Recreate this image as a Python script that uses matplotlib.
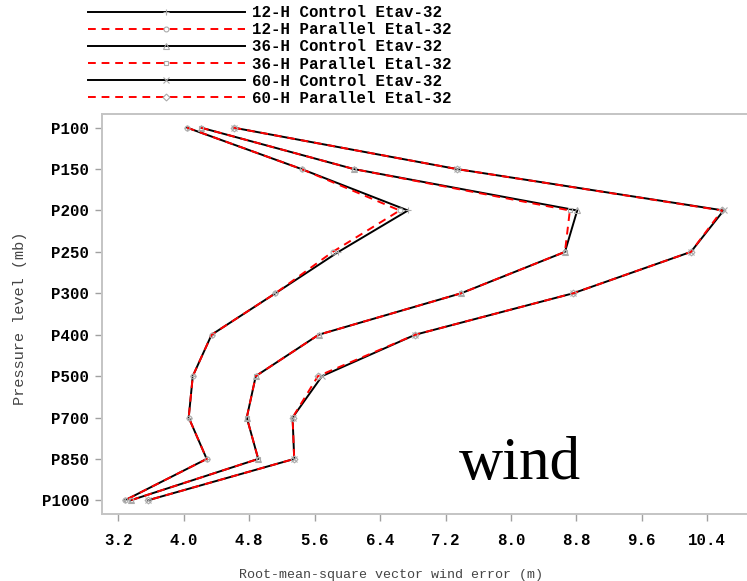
import numpy as np
import matplotlib
matplotlib.use("Agg")
import matplotlib.pyplot as plt

# pressure levels, top of the atmosphere first
levels = ["P100", "P150", "P200", "P250", "P300", "P400", "P500", "P700", "P850", "P1000"]

# RMS vector wind error (m) per level
ctl_12h = [4.04, 5.44, 6.74, 5.89, 5.12, 4.34, 4.11, 4.06, 4.28, 3.28]
par_12h = [4.04, 5.44, 6.64, 5.82, 5.12, 4.34, 4.11, 4.06, 4.28, 3.28]
ctl_36h = [4.21, 6.08, 8.81, 8.66, 7.39, 5.65, 4.88, 4.77, 4.91, 3.35]
par_36h = [4.21, 6.08, 8.72, 8.66, 7.39, 5.65, 4.88, 4.77, 4.91, 3.35]
ctl_60h = [4.61, 7.34, 10.60, 10.20, 8.76, 6.83, 5.69, 5.33, 5.35, 3.56]
par_60h = [4.61, 7.34, 10.58, 10.20, 8.76, 6.83, 5.64, 5.33, 5.35, 3.56]

series = [
    ("12-H Control Etav-32", ctl_12h, "+"),
    ("12-H Parallel Etal-32", par_12h, "o"),
    ("36-H Control Etav-32", ctl_36h, "^"),
    ("36-H Parallel Etal-32", par_36h, "s"),
    ("60-H Control Etav-32", ctl_60h, "x"),
    ("60-H Parallel Etal-32", par_60h, "D"),
]

xticks = [3.2, 4.0, 4.8, 5.6, 6.4, 7.2, 8.0, 8.8, 9.6, 10.4]

W, H = 747, 581
fig = plt.figure(figsize=(W / 100, H / 100), dpi=100)
ax = fig.add_axes([102 / W, (H - 514) / H, (W - 102) / W, 400 / H])

y = np.arange(len(levels))
for i, (name, vals, mk) in enumerate(series):
    if i % 2 == 0:
        ax.plot(vals, y, color="black", lw=1.4, marker=mk, ms=4, mfc="none",
                mec="#aaaaaa", mew=0.8, label=name, zorder=2)
    else:
        ax.plot(vals, y, color="#ff0000", lw=1.4, ls=(0, (4, 3)), marker=mk, ms=3.5,
                mfc="none", mec="#aaaaaa", mew=0.8, label=name, zorder=3)

ax.set_ylim(9.33, -0.33)
ax.set_xlim(3.0, 3.2 + (W - 118.3) / 81.8)
ax.set_yticks(y)
ax.set_yticklabels(levels)
ax.set_xticks(xticks)
ax.set_xticklabels([f"{v:.1f}" for v in xticks])

tick_font = dict(family="Liberation Mono", weight="bold", size=11.3)
for lab in ax.get_xticklabels() + ax.get_yticklabels():
    lab.set_fontproperties(matplotlib.font_manager.FontProperties(**tick_font))

for side in ["top", "left", "bottom"]:
    ax.spines[side].set_color("#c4c4c4")
    ax.spines[side].set_linewidth(1.4)
ax.spines["right"].set_visible(False)
ax.tick_params(axis="both", direction="out", color="#a0a0a0", length=5, width=1)
ax.tick_params(axis="x", pad=9)
ax.tick_params(axis="y", pad=4)

fig.text(391 / W, 1 - 575 / H, "Root-mean-square vector wind error (m)",
         ha="center", va="center", family="Liberation Mono", size=9.6, color="#444444")
fig.text(20 / W, 1 - 318 / H, "Pressure level (mb)", rotation=90,
         ha="center", va="center", family="Liberation Mono", size=11, color="#444444")

fig.text(520 / W, 1 - 464 / H, "wind", ha="center", va="center",
         family="Liberation Serif", size=44, color="black")

fig.legend(loc="upper left", bbox_to_anchor=(88 / W, 1 - 5 / H), frameon=False,
           prop=dict(family="Liberation Mono", weight="bold", size=11.3),
           handlelength=10, handletextpad=0.45, labelspacing=0.14, borderpad=0,
           borderaxespad=0, numpoints=1)

fig.savefig("out.png", dpi=100)
